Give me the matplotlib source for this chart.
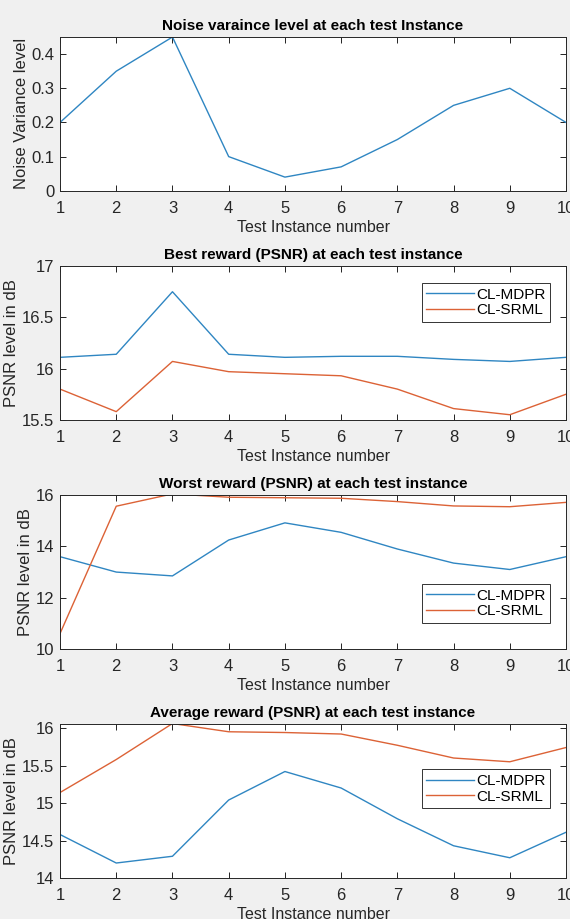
import matplotlib
matplotlib.use('Agg')
import matplotlib.pyplot as plt

# data
instances = [1, 2, 3, 4, 5, 6, 7, 8, 9, 10]
noise_var = [0.2, 0.35, 0.45, 0.1, 0.04, 0.07, 0.15, 0.25, 0.3, 0.2]

best_mdpr = [16.11, 16.14, 16.75, 16.14, 16.11, 16.12, 16.12, 16.09, 16.07, 16.11]
best_srml = [15.80, 15.58, 16.07, 15.97, 15.95, 15.93, 15.80, 15.61, 15.55, 15.75]

worst_mdpr = [13.6, 13.0, 12.85, 14.25, 14.92, 14.55, 13.9, 13.35, 13.1, 13.6]
worst_srml = [10.6, 15.57, 16.05, 15.92, 15.9, 15.88, 15.75, 15.58, 15.55, 15.72]

avg_mdpr = [14.58, 14.2, 14.29, 15.04, 15.42, 15.2, 14.79, 14.43, 14.27, 14.61]
avg_srml = [15.14, 15.58, 16.06, 15.95, 15.94, 15.92, 15.77, 15.6, 15.55, 15.74]

blue = '#2f86c2'
orange = '#dc6236'

plt.rcParams['font.family'] = ['Liberation Sans', 'DejaVu Sans']
plt.rcParams['font.size'] = 11

fig, axes = plt.subplots(4, 1, figsize=(5.7, 9.19), dpi=100, facecolor='#f0f0f0')
fig.subplots_adjust(left=0.1053, right=0.993, top=0.9597, bottom=0.0446, hspace=0.49)


def style(ax, title, ylabel):
    ax.set_facecolor('white')
    ax.set_xlim(1, 10)
    ax.set_xticks(instances)
    ax.tick_params(direction='in', top=True, right=True, length=4, width=0.6,
                   labelsize=12, pad=4, labelcolor='#262626')
    ax.tick_params(axis='x', pad=7)
    for s in ax.spines.values():
        s.set_linewidth(0.7)
        s.set_color('#262626')
    ax.set_title(title, fontsize=11, fontweight='bold', pad=5)
    ax.set_xlabel('Test Instance number', fontsize=11.5, labelpad=3, color='#262626')
    ax.set_ylabel(ylabel, fontsize=12, labelpad=2, color='#262626')


def add_legend(ax, loc, anchor):
    leg = ax.legend(loc=loc, bbox_to_anchor=anchor, fontsize=11, handlelength=3.1,
                    handletextpad=0.15, fancybox=False, edgecolor='#333333', framealpha=1,
                    borderpad=0.3, labelspacing=0.1, borderaxespad=0)
    leg.get_frame().set_linewidth(0.7)


ax = axes[0]
ax.plot(instances, noise_var, color=blue, lw=1)
ax.set_ylim(0, 0.45)
ax.set_yticks([0, 0.1, 0.2, 0.3, 0.4])
ax.set_yticklabels(['0', '0.1', '0.2', '0.3', '0.4'])
style(ax, 'Noise varaince level at each test Instance', 'Noise Variance level')

ax = axes[1]
ax.plot(instances, best_mdpr, color=blue, lw=1, label='CL-MDPR')
ax.plot(instances, best_srml, color=orange, lw=1, label='CL-SRML')
ax.set_ylim(15.5, 17)
ax.set_yticks([15.5, 16, 16.5, 17])
ax.set_yticklabels(['15.5', '16', '16.5', '17'])
style(ax, 'Best reward (PSNR) at each test instance', 'PSNR level in dB')
add_legend(ax, 'upper right', (0.968, 0.89))

ax = axes[2]
ax.plot(instances, worst_mdpr, color=blue, lw=1, label='CL-MDPR')
ax.plot(instances, worst_srml, color=orange, lw=1, label='CL-SRML')
ax.set_ylim(10, 16)
ax.set_yticks([10, 12, 14, 16])
style(ax, 'Worst reward (PSNR) at each test instance', 'PSNR level in dB')
add_legend(ax, 'lower right', (0.968, 0.17))

ax = axes[3]
ax.plot(instances, avg_mdpr, color=blue, lw=1, label='CL-MDPR')
ax.plot(instances, avg_srml, color=orange, lw=1, label='CL-SRML')
ax.set_ylim(14, 16.05)
ax.set_yticks([14, 14.5, 15, 15.5, 16])
ax.set_yticklabels(['14', '14.5', '15', '15.5', '16'])
style(ax, 'Average reward (PSNR) at each test instance', 'PSNR level in dB')
add_legend(ax, 'center right', (0.968, 0.58))

fig.savefig('out.png', dpi=100, facecolor=fig.get_facecolor())
